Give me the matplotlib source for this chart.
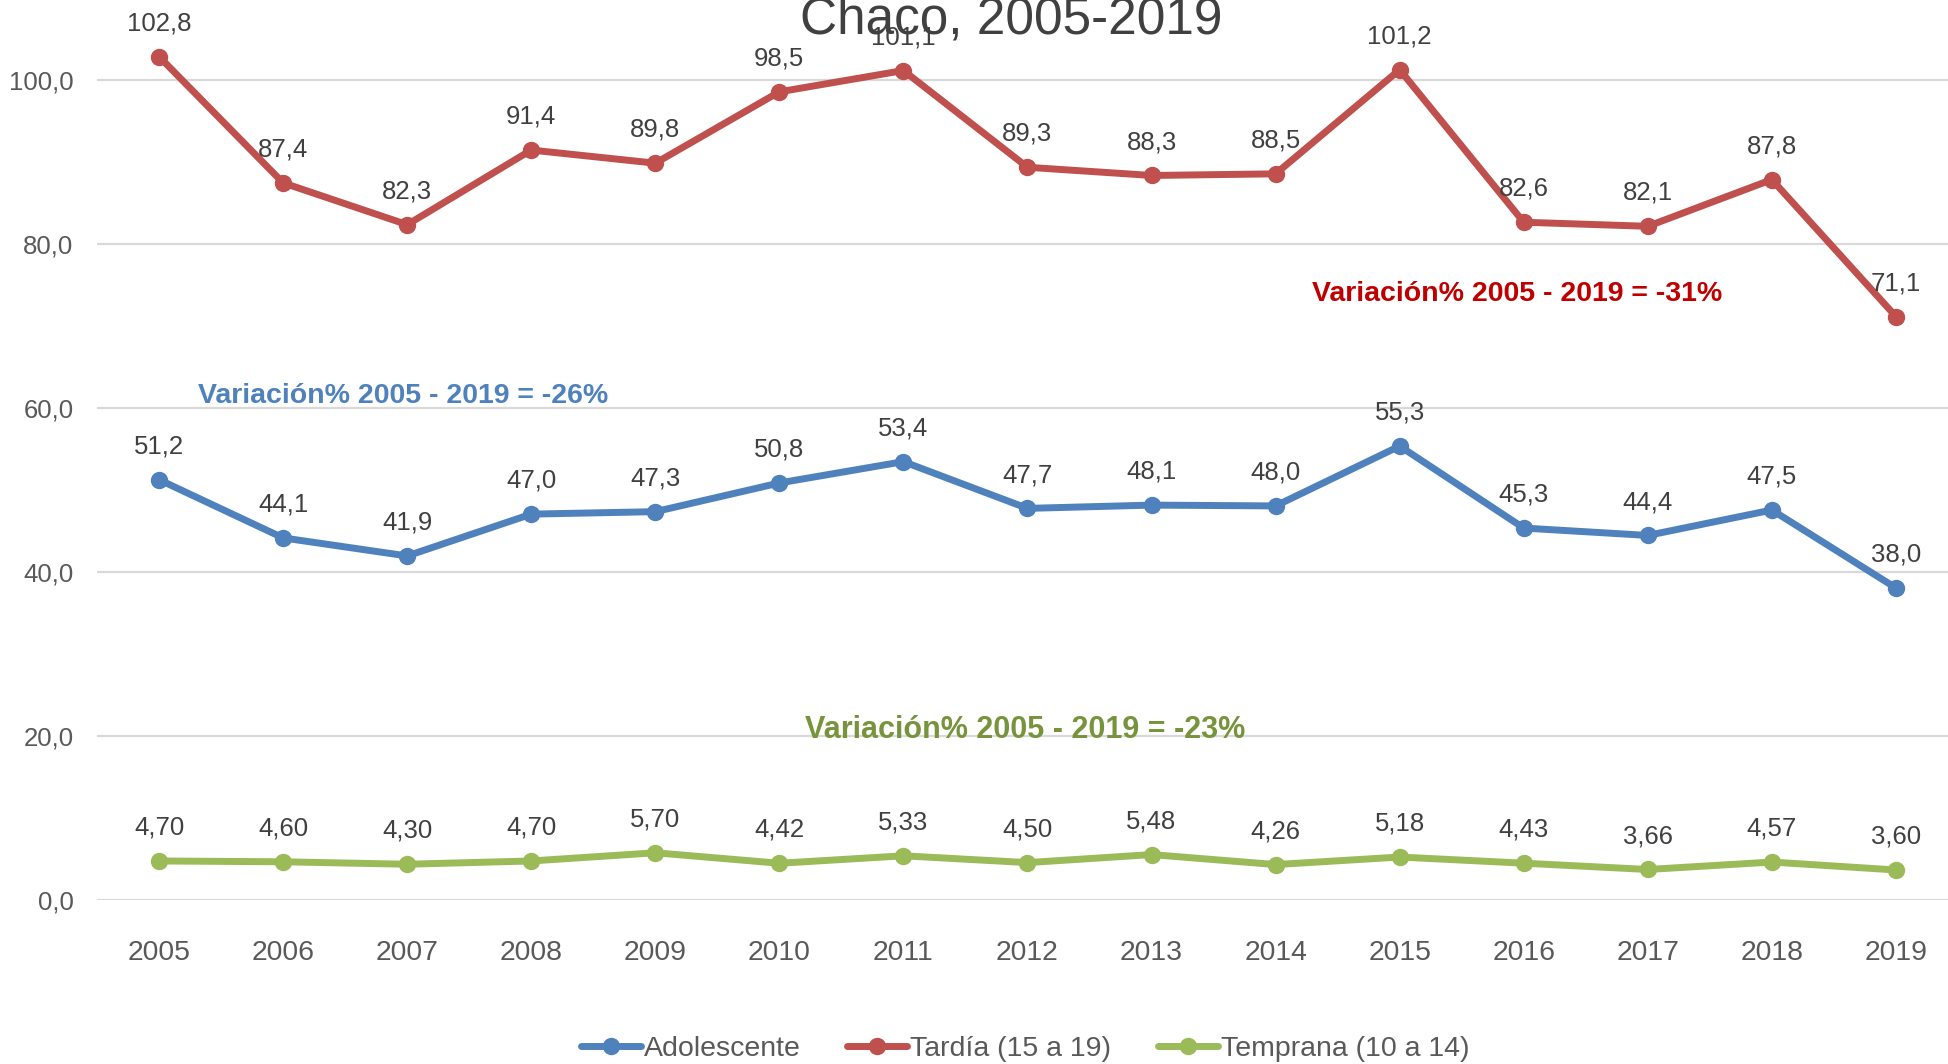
import matplotlib
matplotlib.use("Agg")
import matplotlib.pyplot as plt

plt.rcParams['font.family'] = ['Liberation Sans', 'DejaVu Sans']

# Datos
anios = ["2005", "2006", "2007", "2008", "2009", "2010", "2011", "2012",
         "2013", "2014", "2015", "2016", "2017", "2018", "2019"]
adolescente = [51.2, 44.1, 41.9, 47.0, 47.3, 50.8, 53.4, 47.7,
               48.1, 48.0, 55.3, 45.3, 44.4, 47.5, 38.0]
tardia = [102.8, 87.4, 82.3, 91.4, 89.8, 98.5, 101.1, 89.3,
          88.3, 88.5, 101.2, 82.6, 82.1, 87.8, 71.1]
temprana = [4.70, 4.60, 4.30, 4.70, 5.70, 4.42, 5.33, 4.50,
            5.48, 4.26, 5.18, 4.43, 3.66, 4.57, 3.60]
yticks = [0, 20, 40, 60, 80, 100]

series = [
    ("Adolescente", adolescente, "#4F81BD", 1),
    ("Tardía (15 a 19)", tardia, "#C0504D", 1),
    ("Temprana (10 a 14)", temprana, "#9BBB59", 2),
]

# Notas de variación: texto, x (índice), y, color, tamaño
notas = [
    ("Variación% 2005 - 2019 = -31%", 10.95, 73.8, "#C00000", 20.5),
    ("Variación% 2005 - 2019 = -26%", 1.97, 61.4, "#4F81BD", 20.5),
    ("Variación% 2005 - 2019 = -23%", 6.98, 20.7, "#77933C", 22),
]

fig = plt.figure(figsize=(19.48, 10.64), dpi=100)
ax = fig.add_axes([0.0498, 0.1546, 0.9502, 0.8454])

x = list(range(len(anios)))
for nombre, valores, color, dec in series:
    ax.plot(x, valores, color=color, linewidth=5, marker="o",
            markersize=11.5, label=nombre, solid_capstyle="round", zorder=3)
    for xi, v in zip(x, valores):
        ax.annotate(f"{v:.{dec}f}".replace(".", ","), (xi, v),
                    xytext=(0, 24), textcoords="offset points",
                    ha="center", va="center", fontsize=18.5,
                    color="#404040", zorder=4)

for texto, xn, yn, color, fs in notas:
    ax.text(xn, yn, texto, ha="center", va="center", fontsize=fs,
            fontweight="bold", color=color, zorder=5)

ax.set_xlim(-0.5, 14.42)
ax.set_ylim(0, 109.7)
ax.set_xticks(x)
ax.set_xticklabels(anios)
ax.set_yticks(yticks)
ax.set_yticklabels([f"{t:.1f}".replace(".", ",") for t in yticks])
ax.tick_params(axis="x", length=0, pad=29, labelsize=20.4, labelcolor="#595959")
ax.tick_params(axis="y", length=0, pad=17, labelsize=18.5, labelcolor="#595959")
ax.grid(axis="y", color="#D9D9D9", linewidth=1.6, zorder=0)
ax.set_axisbelow(True)
for s in ax.spines.values():
    s.set_visible(False)

fig.text(1011 / 1948, 1 - 34 / 1064, "Chaco, 2005-2019", ha="center",
         va="baseline", fontsize=37, color="#404040")

fig.legend(loc="center", bbox_to_anchor=(1025 / 1948, 1 - 1049 / 1064),
           ncol=3, frameon=False, fontsize=20.5, handlelength=2.1,
           handletextpad=0.1, columnspacing=1.65, labelcolor="#595959")

fig.savefig("out.png", dpi=100)
